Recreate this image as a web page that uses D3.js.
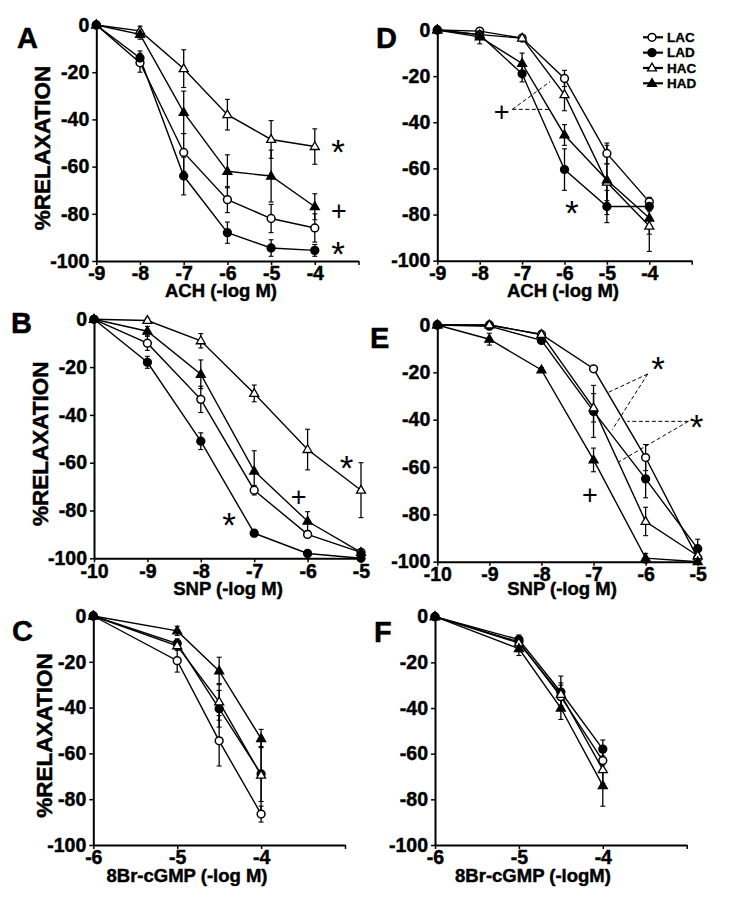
<!DOCTYPE html>
<html>
<head>
<meta charset="utf-8">
<script src="https://cdn.jsdelivr.net/npm/d3@7"></script>
<style>
  html, body { margin: 0; padding: 0; background: #fff; }
  svg { display: block; }
  text { font-family: "Liberation Sans", Arial, Helvetica, sans-serif; }
</style>
</head>
<body>
<svg id="chart" width="750" height="900"></svg>
<script>
// ---------- DATA ----------
const seriesNames = ["LAC", "LAD", "HAC", "HAD"];

// Panel A : ACH (control diet)
const aX = [-9, -8, -7, -6, -5, -4];
const aLAC = [0, -16, -54, -74, -82, -86];
const aLACerr = [0, 4, 8, 5.5, 6, 6];
const aLAD = [0, -14, -64, -88, -94.5, -95.5];
const aLADerr = [0, 3, 8, 4.5, 3.5, 2.5];
const aHAC = [0, -2.5, -18.5, -38, -48.5, -51.5];
const aHACerr = [0, 2, 8, 6.5, 8, 7.5];
const aHAD = [0, -4, -37, -62, -64, -77];
const aHADerr = [0, 2, 9, 7, 11, 5.5];

// Panel D : ACH
const dX = [-9, -8, -7, -6, -5, -4];
const dLAC = [0, -0.5, -3.5, -21, -53.5, -74.5];
const dLACerr = [0, 1, 1, 3.5, 4.5, 2];
const dLAD = [0, -2, -19, -60.5, -76.5, -76.5];
const dLADerr = [0, 2, 3.5, 9, 7, 2];
const dHAC = [0, -2, -3.5, -28, -66, -85];
const dHACerr = [0, 2, 1, 7, 8, 11];
const dHAD = [0, -3, -14.5, -45.5, -65, -81.5];
const dHADerr = [0, 3, 4.5, 4.5, 15, 7];

// Panel B : SNP
const bX = [-10, -9, -8, -7, -6, -5];
const bLAC = [0, -10, -33.5, -71.5, -90, -97.5];
const bLACerr = [0, 3, 5.5, 2, 1, 1];
const bLAD = [0, -18, -51, -89.5, -98, -100];
const bLADerr = [0, 2.5, 3.5, 1.5, 1, 0.5];
const bHAC = [0, -0.5, -9, -31, -54.5, -71.5];
const bHACerr = [0, 1, 3, 3.5, 8.5, 11.5];
const bHAD = [0, -5, -23, -63.5, -84.5, -97.5];
const bHADerr = [0, 2, 6, 8.5, 4, 1];

// Panel E : SNP
const eX = [-10, -9, -8, -7, -6, -5];
const eLAC = [0, 0, -4, -18.5, -56, -98.5];
const eLACerr = [0, 1, 1, 1, 5.5, 1];
const eLAD = [0, -0.5, -6.5, -36.5, -65, -94.5];
const eLADerr = [0, 1, 1, 11, 8, 4];
const eHAC = [0, 0, -4, -35, -83, -97.5];
const eHACerr = [0, 1, 1, 6, 6, 1];
const eHAD = [0, -6, -19, -57, -98.5, -100];
const eHADerr = [0, 2.5, 1, 5, 2, 0.5];

// Panel C : 8Br-cGMP
const cX = [-6, -5, -4.5, -4];
const cLAC = [0, -19.5, -54.5, -86.5];
const cLACerr = [0, 5, 11, 3.5];
const cLAD = [0, -12, -40.5, -69];
const cLADerr = [0, 2, 8, 12];
const cHAC = [0, -13, -37.5, -69.5];
const cHACerr = [0, 2, 8, 16];
const cHAD = [0, -6.5, -24, -53.5];
const cHADerr = [0, 2, 6, 4];

// Panel F : 8Br-cGMP
const fX = [-6, -5, -4.5, -4];
const fLAC = [0, -11, -35, -63];
const fLACerr = [0, 2, 5, 5];
const fLAD = [0, -10, -33, -58];
const fLADerr = [0, 2, 7, 4];
const fHAC = [0, -11.5, -34, -67];
const fHACerr = [0, 2, 5, 6];
const fHAD = [0, -14, -40, -74];
const fHADerr = [0, 3, 5, 9];

// tick values
const yTicks = [0, -20, -40, -60, -80, -100];
const achTicks = [-9, -8, -7, -6, -5, -4, -3];
const snpTicks = [-10, -9, -8, -7, -6, -5];
const cgmpTicks = [-6, -5, -4, -3];

// annotations (data coordinates)
const aNotes = [["*", -3.47, -52], ["+", -3.45, -79.7], ["*", -3.47, -95]];
const dNotes = [["+", -7.48, -36.4], ["*", -5.83, -77.3]];
const dDashes = [[[-7.23, -34.4], [-6.34, -22.4]], [[-7.23, -34.4], [-6.34, -34.4]]];
const bNotes = [["*", -5.27, -60.3], ["+", -6.17, -75.3], ["*", -7.47, -84]];
const eNotes = [["*", -5.76, -16.9], ["*", -5.02, -41.3], ["+", -7.07, -72.6]];
const eDashes = [
  [[-5.96, -20.7], [-6.72, -28.5]], [[-5.96, -20.7], [-6.64, -44.2]],
  [[-5.18, -40.7], [-6.35, -40.7]], [[-5.18, -40.7], [-6.52, -57.9]]
];

// ---------- LAYOUT ----------
const panels = [
  { letter: "A", x: aX, ys: [aLAC, aLAD, aHAC, aHAD], es: [aLACerr, aLADerr, aHACerr, aHADerr],
    xd: [-9, -3], xr: [96.3, 358.5], yr: [261, 25], ticks: achTicks, unl: [-3],
    title: "ACH (-log M)", tx: 221, ty: 297, lx: 17, ly: 48, ylab: true, ylx: 42, notes: aNotes, dashes: [] },
  { letter: "D", x: dX, ys: [dLAC, dLAD, dHAC, dHAD], es: [dLACerr, dLADerr, dHACerr, dHADerr],
    xd: [-9, -3], xr: [437.3, 691.7], yr: [260.7, 30], ticks: achTicks, unl: [-3],
    title: "ACH (-log M)", tx: 563, ty: 297, lx: 376, ly: 48, ylab: false, notes: dNotes, dashes: dDashes },
  { letter: "B", x: bX, ys: [bLAC, bLAD, bHAC, bHAD], es: [bLACerr, bLADerr, bHACerr, bHADerr],
    xd: [-10, -5], xr: [94, 361], yr: [558.3, 319.3], ticks: snpTicks, unl: [],
    title: "SNP (-log M)", tx: 228, ty: 595, lx: 11, ly: 333, ylab: true, ylx: 40, notes: bNotes, dashes: [] },
  { letter: "E", x: eX, ys: [eLAC, eLAD, eHAC, eHAD], es: [eLACerr, eLADerr, eHACerr, eHADerr],
    xd: [-10, -5], xr: [437.3, 697.7], yr: [561.7, 325], ticks: snpTicks, unl: [],
    title: "SNP (-log M)", tx: 562, ty: 595, lx: 370, ly: 348, ylab: false, notes: eNotes, dashes: eDashes },
  { letter: "C", x: cX, ys: [cLAC, cLAD, cHAC, cHAD], es: [cLACerr, cLADerr, cHACerr, cHADerr],
    xd: [-6, -3], xr: [93.3, 345], yr: [845, 616], ticks: cgmpTicks, unl: [-3],
    title: "8Br-cGMP (-log M)", tx: 187, ty: 882, lx: 12, ly: 641, ylab: true, ylx: 44, notes: [], dashes: [] },
  { letter: "F", x: fX, ys: [fLAC, fLAD, fHAC, fHAD], es: [fLACerr, fLADerr, fHACerr, fHADerr],
    xd: [-6, -3], xr: [435, 686.7], yr: [845, 616.7], ticks: cgmpTicks, unl: [-3],
    title: "8Br-cGMP (-logM)", tx: 533, ty: 882, lx: 374, ly: 642, ylab: false, notes: [], dashes: [] }
];

const svg = d3.select("#chart");
const FONT_TICK = 19.5;
const BOLD_STROKE = 0.45;

function triPath(s) {
  const h = s * Math.sqrt(3) / 2;
  return `M0,${-h * 0.62}L${s / 2},${h * 0.38}L${-s / 2},${h * 0.38}Z`;
}
function drawMarker(g, type, cx, cy) {
  if (type === 0 || type === 1) {
    g.append("circle").attr("cx", cx).attr("cy", cy).attr("r", 3.9)
      .attr("fill", type === 0 ? "#fff" : "#000").attr("stroke", "#000").attr("stroke-width", 1.5);
  } else {
    g.append("path").attr("d", triPath(9)).attr("transform", `translate(${cx},${cy})`)
      .attr("fill", type === 2 ? "#fff" : "#000").attr("stroke", "#000").attr("stroke-width", 1.3)
      .attr("stroke-linejoin", "miter");
  }
}
function heavy(sel) {
  return sel.attr("font-weight", "bold").attr("stroke", "#000").attr("stroke-width", BOLD_STROKE)
    .attr("fill", "#000");
}

panels.forEach(p => {
  const x = d3.scaleLinear().domain(p.xd).range(p.xr);
  const y = d3.scaleLinear().domain([-100, 0]).range(p.yr);
  const g = svg.append("g");

  // axes
  const xa = d3.axisBottom(x).tickValues(p.ticks).tickSize(4).tickSizeOuter(0).tickPadding(1.5)
    .tickFormat(d => p.unl.includes(d) ? "" : d3.format("d")(d).replace("−", "-"));
  const ya = d3.axisLeft(y).tickValues(yTicks).tickSize(4).tickSizeOuter(0).tickPadding(3)
    .tickFormat(d => d3.format("d")(d).replace("−", "-"));
  const gx = g.append("g").attr("transform", `translate(0,${p.yr[0]})`).call(xa);
  const gy = g.append("g").attr("transform", `translate(${p.xr[0]},0)`).call(ya);
  [gx, gy].forEach(a => {
    a.select(".domain").attr("stroke", "#000").attr("stroke-width", 2);
    a.selectAll(".tick line").attr("stroke", "#000").attr("stroke-width", 1.5);
    heavy(a.selectAll(".tick text")).attr("font-size", FONT_TICK)
      .attr("font-family", "Liberation Sans, Arial, sans-serif");
  });

  // titles
  heavy(g.append("text").attr("x", p.tx).attr("y", p.ty).attr("text-anchor", "middle")
    .attr("font-size", 18.5)).text(p.title);
  heavy(g.append("text").attr("x", p.lx).attr("y", p.ly).attr("font-size", 29)).text(p.letter);
  if (p.ylab) {
    const cy = (p.yr[0] + p.yr[1]) / 2 + 5;
    heavy(g.append("text").attr("transform", `translate(${p.ylx},${cy}) rotate(-90)`)
      .attr("text-anchor", "middle").attr("dominant-baseline", "central")
      .attr("font-size", 22.5)).text("%RELAXATION");
  }

  // dashed annotation lines
  p.dashes.forEach(seg => {
    g.append("line").attr("x1", x(seg[0][0])).attr("y1", y(seg[0][1]))
      .attr("x2", x(seg[1][0])).attr("y2", y(seg[1][1]))
      .attr("stroke", "#000").attr("stroke-width", 1).attr("stroke-dasharray", "4,2.5");
  });

  // series lines
  const line = d3.line().x(d => x(d[0])).y(d => y(d[1]));
  p.ys.forEach(vals => {
    g.append("path").datum(p.x.map((xv, i) => [xv, vals[i]])).attr("d", line)
      .attr("fill", "none").attr("stroke", "#000").attr("stroke-width", 1.4);
  });
  // error bars
  p.ys.forEach((vals, si) => {
    p.x.forEach((xv, i) => {
      const e = p.es[si][i];
      if (!e) return;
      const px = x(xv);
      const y1 = y(vals[i] + e), y2 = y(vals[i] - e);
      g.append("line").attr("x1", px).attr("x2", px).attr("y1", y1).attr("y2", y2)
        .attr("stroke", "#000").attr("stroke-width", 1.3);
      [y1, y2].forEach(yy => g.append("line").attr("x1", px - 2.5).attr("x2", px + 2.5)
        .attr("y1", yy).attr("y2", yy).attr("stroke", "#000").attr("stroke-width", 1.1));
    });
  });
  // markers
  p.ys.forEach((vals, si) => {
    p.x.forEach((xv, i) => drawMarker(g, si, x(xv), y(vals[i])));
  });

  // annotation symbols
  p.notes.forEach(n => {
    const isStar = n[0] === "*";
    g.append("text").attr("x", x(n[1])).attr("y", y(n[2]))
      .attr("dy", isStar ? "0.47em" : "0.25em")
      .attr("text-anchor", "middle")
      .attr("font-family", "Liberation Serif, Times New Roman, serif")
      .attr("font-size", isStar ? 35 : 27).attr("font-weight", "normal")
      .text(n[0]);
  });
});

// legend (panel D)
const legend = svg.append("g");
const legY = d3.scalePoint().domain(seriesNames).range([37.3, 83.3]);
seriesNames.forEach((name, i) => {
  const yy = legY(name);
  legend.append("line").attr("x1", 643).attr("x2", 663).attr("y1", yy).attr("y2", yy)
    .attr("stroke", "#000").attr("stroke-width", 2.2);
  drawMarker(legend, i, 652, yy);
  heavy(legend.append("text").attr("x", 667).attr("y", yy).attr("dy", "0.36em")
    .attr("font-size", 13.5)).attr("stroke-width", 0.3).text(name);
});
</script>
</body>
</html>
